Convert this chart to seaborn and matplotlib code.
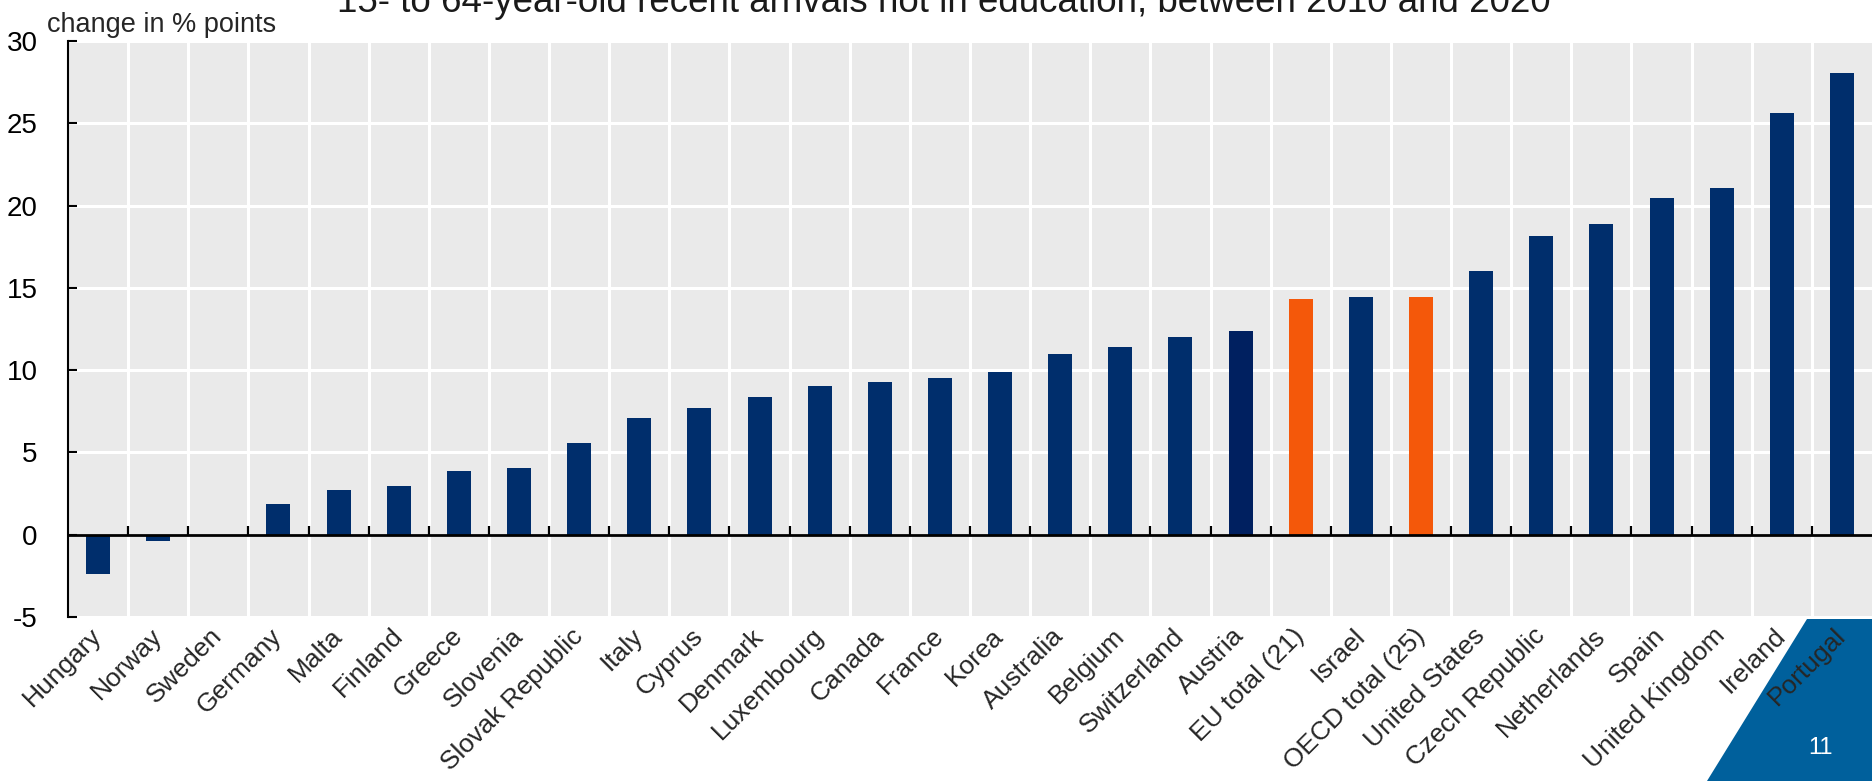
import matplotlib
matplotlib.use('Agg')
import matplotlib.pyplot as plt
import seaborn as sns
from matplotlib.patches import Polygon

# countries, sorted as in the chart
countries = ['Hungary', 'Norway', 'Sweden', 'Germany', 'Malta', 'Finland', 'Greece',
             'Slovenia', 'Slovak Republic', 'Italy', 'Cyprus', 'Denmark', 'Luxembourg',
             'Canada', 'France', 'Korea', 'Australia', 'Belgium', 'Switzerland', 'Austria',
             'EU total (21)', 'Israel', 'OECD total (25)', 'United States', 'Czech Republic',
             'Netherlands', 'Spain', 'United Kingdom', 'Ireland', 'Portugal']

# change in % points, 2010 -> 2020
change = [-2.4, -0.4, 0.0, 1.85, 2.7, 2.95, 3.9, 4.05, 5.6, 7.1, 7.7, 8.35, 9.05,
          9.3, 9.55, 9.9, 11.0, 11.4, 12.0, 12.35, 14.3, 14.45, 14.45, 16.05, 18.15,
          18.85, 20.45, 21.05, 25.65, 28.05]

y_ticks = [-5, 0, 5, 10, 15, 20, 25, 30]

navy = '#002E6C'
dark_navy = '#002060'
orange = '#F4580A'
colors = []
for c in countries:
    if 'total' in c:
        colors.append(orange)
    elif c == 'Austria':
        colors.append(dark_navy)
    else:
        colors.append(navy)

regular = ['Liberation Sans', 'DejaVu Sans']

sns.set_style('white')
plt.rcParams['font.family'] = regular

W, H = 1872, 781
fig = plt.figure(figsize=(W / 100, H / 100), dpi=100)
ax = fig.add_axes([68 / W, 1 - 617 / H, 1 - 68 / W, (617 - 41) / H])

sns.barplot(x=countries, y=change, hue=countries, palette=colors, legend=False,
            width=0.4, saturation=1, linewidth=0, ax=ax, zorder=3)

ax.set_facecolor('#EAEAEA')
ax.set_xlim(-0.5, len(countries) - 0.5)
ax.set_ylim(-5, 30)
ax.set_yticks(y_ticks)
ax.set_yticklabels([str(v) for v in y_ticks], fontsize=20)

# vertical gridlines between categories
bounds = [i - 0.5 for i in range(1, len(countries))]
ax.set_xticks(bounds, minor=True)
ax.grid(True, which='minor', axis='x', color='white', linewidth=2.2, zorder=1)
ax.grid(True, which='major', axis='y', color='white', linewidth=2.2, zorder=1)
ax.grid(False, which='major', axis='x')
ax.set_axisbelow(True)

ax.set_xticks(range(len(countries)))
ax.set_xticklabels(countries, rotation=45, ha='right', va='center',
                   rotation_mode='anchor', fontsize=19)
ax.tick_params(axis='x', which='both', length=0, pad=11)
ax.tick_params(axis='y', direction='in', length=6.5, width=1.5, pad=22,
               left=True, colors='black')

for s in ['top', 'right', 'bottom']:
    ax.spines[s].set_visible(False)
ax.spines['left'].set_color('black')
ax.spines['left'].set_linewidth(1.5)
ax.set_xlabel('')
ax.set_ylabel('')

# zero line with small ticks between categories
ax.axhline(0, color='black', linewidth=2.0, zorder=5)
ax.vlines(bounds, 0, 0.55, color='black', linewidth=1.6, zorder=5)

fig.text(943.5 / W, 1 - 12 / H,
         '15- to 64-year-old recent arrivals not in education, between 2010 and 2020',
         ha='center', va='baseline', fontsize=26.5, color='#1a1a1a')
fig.text(47 / W, 1 - 32 / H, 'change in % points', ha='left', va='baseline',
         fontsize=19.5)

# page number corner
tri = Polygon([(1707 / W, 0), (1807 / W, 1 - 619 / H), (1, 1 - 619 / H), (1, 0)],
              closed=True, transform=fig.transFigure, facecolor='#00609C',
              edgecolor='none', zorder=-1)
fig.patches.append(tri)
fig.text(1821 / W, 1 - 748 / H, '11', ha='center', va='center', color='white',
         fontsize=17)

fig.savefig('out.png', dpi=100)
